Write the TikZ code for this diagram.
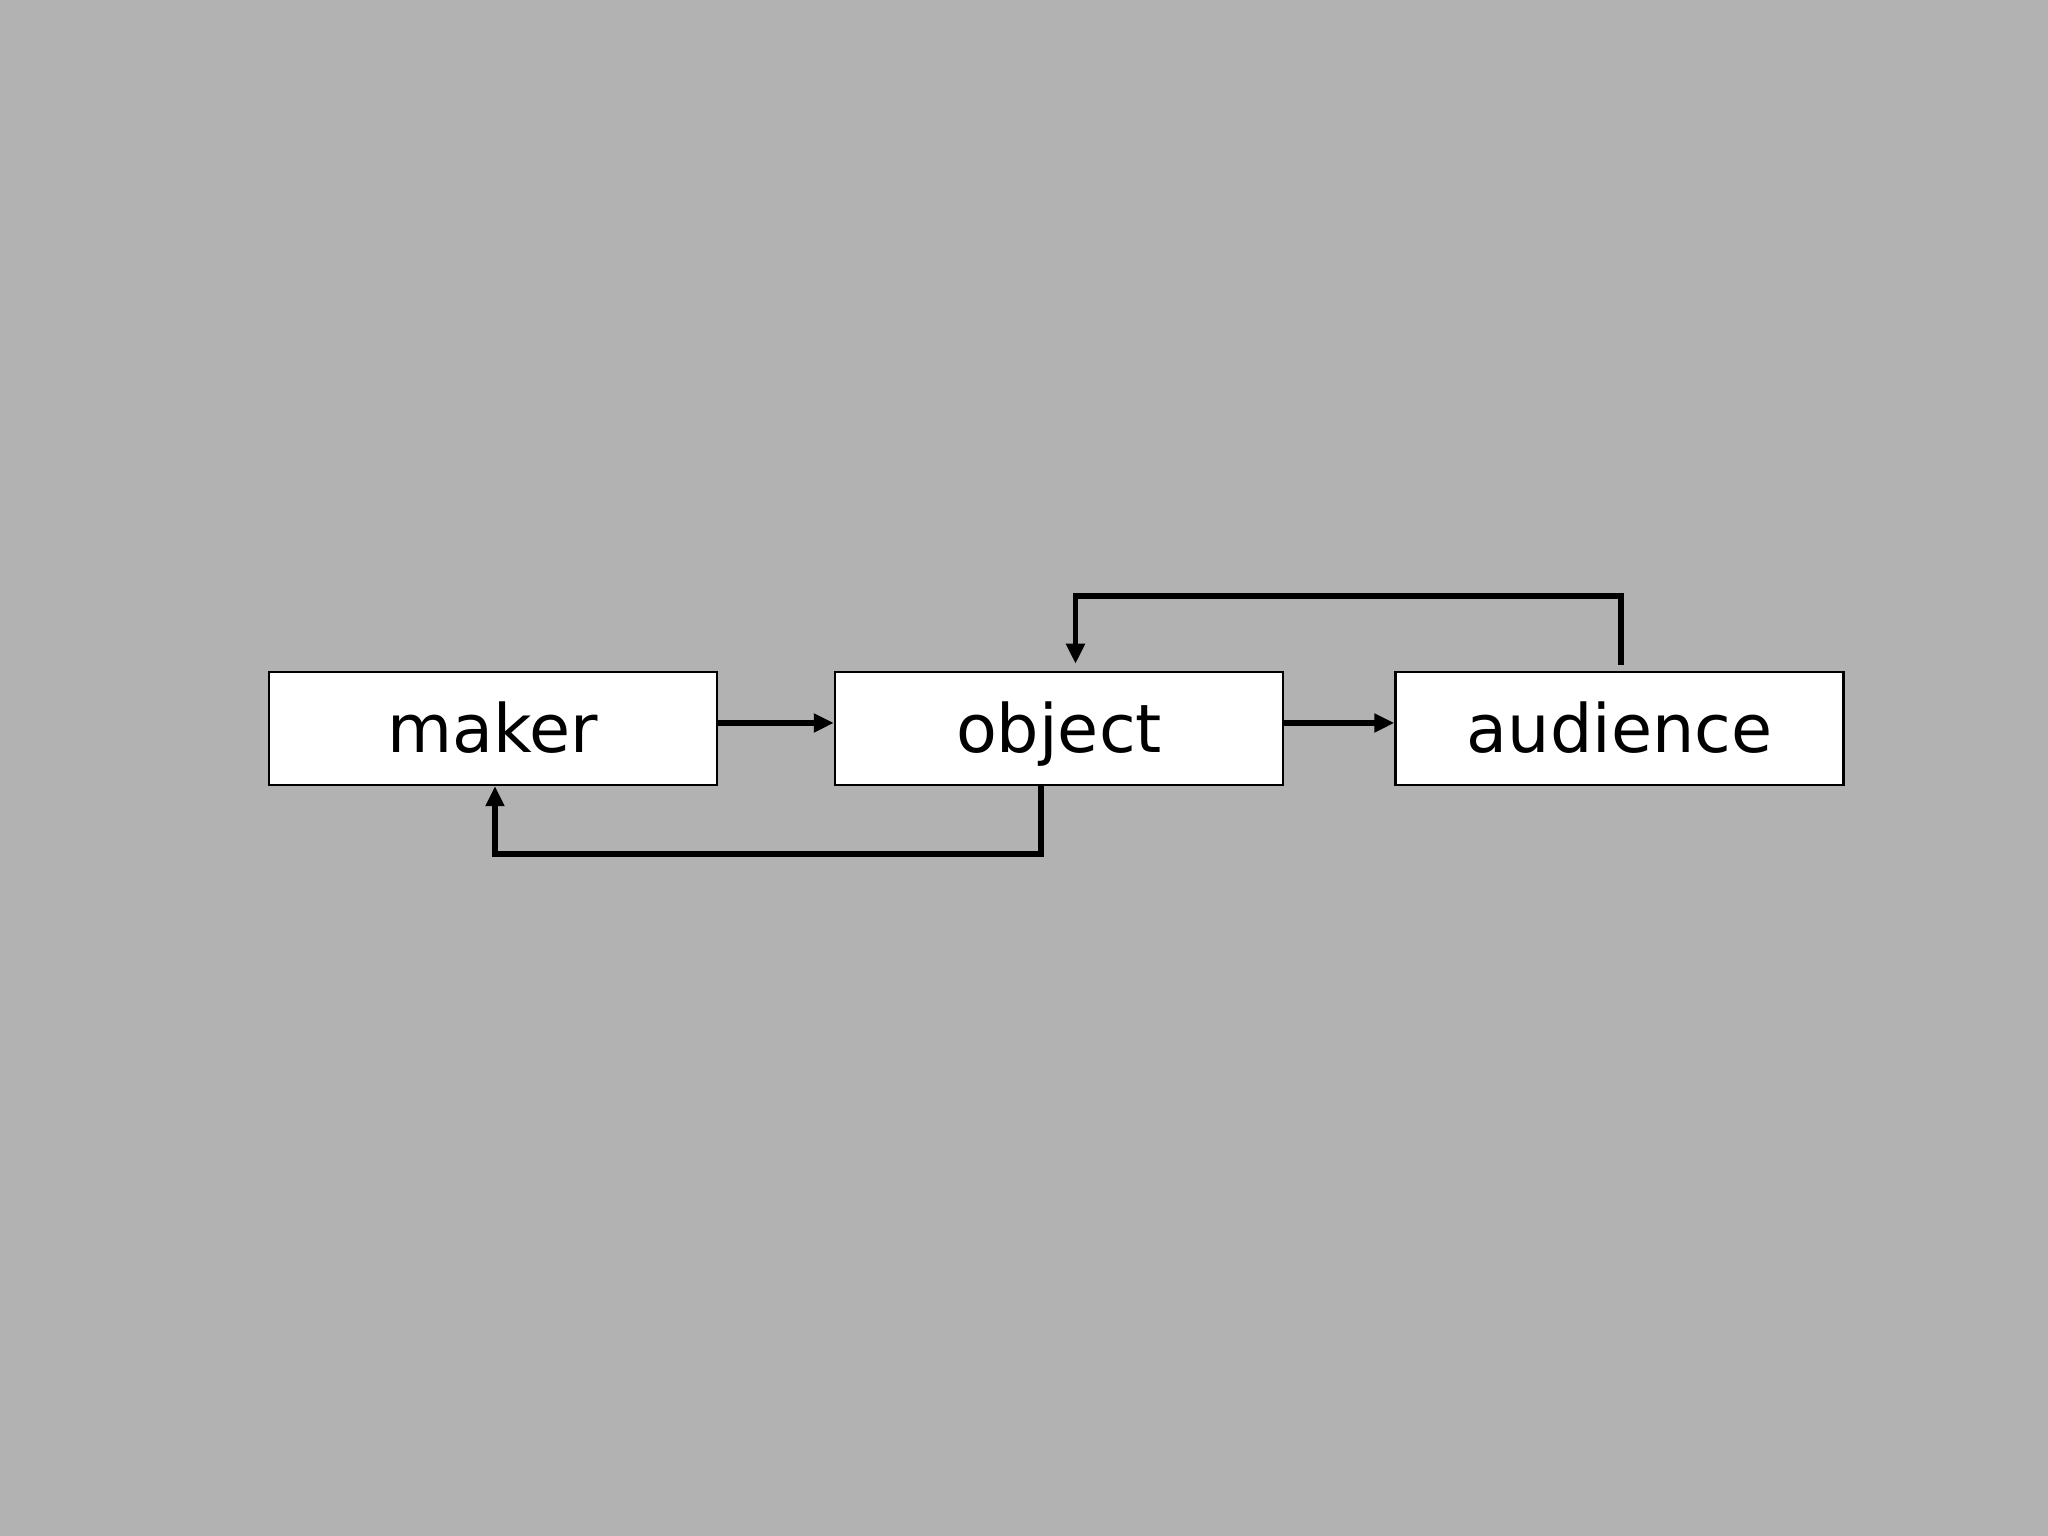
\documentclass[tikz,border=0pt]{standalone}
\usepackage{fontspec}
\setmainfont{DejaVu Sans}
\usetikzlibrary{arrows.meta}
\definecolor{slidegray}{RGB}{178,178,178}

\begin{document}
\begin{tikzpicture}[
        box/.style={draw=black, line width=0.7pt, fill=white, minimum width=4.48cm, minimum height=1.13cm, inner sep=0pt, text height=6mm, text depth=1.1mm, font=\fontsize{19}{23}\selectfont},
        flow/.style={line width=1.7pt, -{Triangle[length=2mm, width=1.8mm]}}
    ]
        \fill[slidegray] (0,0) rectangle (20.48,15.36);
        \useasboundingbox (0,0) rectangle (20.48,15.36);

        \coordinate (makerpos) at (4.93,8.075);
        \coordinate (objectpos) at (10.59,8.075);
        \coordinate (audiencepos) at (16.195,8.075);

        \node[box] (maker) at (makerpos) {maker};
        \node[box] (object) at (objectpos) {object};
        \node[box] (audience) at (audiencepos) {audience};

        \draw[flow] ([yshift=0.55mm]maker.east) -- ([yshift=0.55mm]object.west);
        \draw[flow] ([yshift=0.55mm]object.east) -- ([yshift=0.55mm]audience.west);

        \draw[flow] ([xshift=0.15mm, yshift=0.6mm]audience.north) -- ++(0,0.69) -| ([xshift=1.65mm, yshift=0.7mm]object.north);
        \draw[flow] ([xshift=-1.8mm]object.south) -- ++(0,-0.68) -| ([xshift=0.2mm]maker.south);
    \end{tikzpicture}
\end{document}
